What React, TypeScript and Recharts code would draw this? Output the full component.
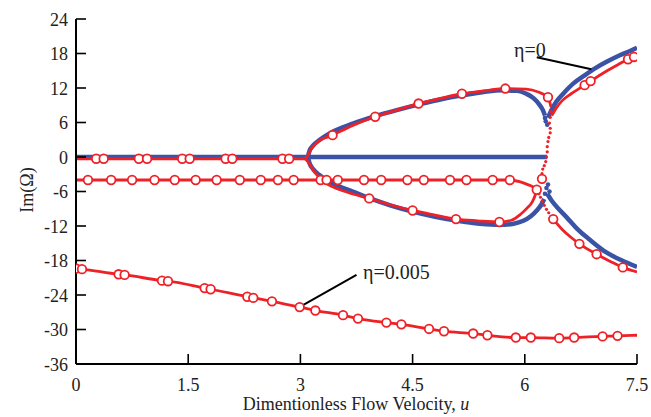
import React from "react";
import { ComposedChart, Line, Scatter, XAxis, YAxis, ReferenceLine } from "recharts";

type P = [number, number];

const X_TICKS = [0, 1.5, 3, 4.5, 6, 7.5];
const Y_TICKS = [-36, -30, -24, -18, -12, -6, 0, 6, 12, 18, 24];

// eta = 0 (blue)
const blueZero: P[] = [[0, 0], [6.3, 0]];
const blueUpper: P[] = [[3.1, 0], [3.12, 1.0], [3.17, 2.0], [3.25, 2.9], [3.4, 4.2], [3.7, 5.8], [4.0, 7.1], [4.3, 8.2], [4.6, 9.2], [4.9, 10.1], [5.2, 10.8], [5.45, 11.3], [5.7, 11.6], [5.9, 11.5], [6.02, 11.0], [6.12, 10.2], [6.19, 9.2], [6.24, 8.2], [6.27, 7.2]];
const blueLower: P[] = [[3.1, 0], [3.12, -1.0], [3.17, -2.1], [3.25, -3.1], [3.4, -4.4], [3.7, -6.0], [3.95, -7.3], [4.2, -8.4], [4.5, -9.5], [4.8, -10.4], [5.1, -11.1], [5.4, -11.6], [5.66, -11.8], [5.85, -11.6], [5.98, -11.1], [6.08, -10.3], [6.16, -9.3], [6.22, -8.3], [6.26, -7.3]];
const blueRightUp: P[] = [[6.31, 6.8], [6.35, 8.0], [6.42, 9.6], [6.52, 11.1], [6.65, 12.8], [6.8, 14.2], [6.95, 15.5], [7.1, 16.6], [7.27, 17.7], [7.4, 18.4], [7.5, 19.0]];
const blueRightDown: P[] = [[6.3, -6.4], [6.36, -7.6], [6.45, -9.0], [6.56, -10.5], [6.7, -12.5], [6.87, -14.4], [7.09, -16.6], [7.3, -18.0], [7.5, -19.1]];
const blueDots: P[] = [[6.27, 6.8], [6.28, 6.2], [6.3, 5.6], [6.31, -4.8], [6.29, -5.4], [6.33, -6.0], [6.27, -6.4]];

// eta = 0.005 (red)
const redUpper: P[] = [[0, -0.3], [3.06, -0.3], [3.1, 0.3], [3.14, 1.3], [3.22, 2.5], [3.43, 3.8], [3.7, 5.5], [4.0, 7.0], [4.3, 8.2], [4.58, 9.3], [4.87, 10.2], [5.16, 11.0], [5.45, 11.5], [5.74, 11.9], [6.02, 11.8], [6.18, 11.3], [6.31, 10.4], [6.35, 8.7]];
const redLower: P[] = [[3.06, -0.3], [3.1, -0.8], [3.14, -1.6], [3.2, -2.8], [3.33, -4.4], [3.6, -6.0], [3.92, -7.2], [4.2, -8.3], [4.5, -9.3], [4.8, -10.1], [5.08, -10.8], [5.37, -11.1], [5.66, -11.3], [5.82, -11.0], [5.94, -10.0], [6.03, -8.9], [6.1, -7.8], [6.14, -6.6], [6.16, -5.7]];
const redMinus4: P[] = [[0, -4], [5.8, -4], [5.93, -4.3], [6.04, -4.8], [6.11, -5.2], [6.16, -5.7]];
const redRightDown: P[] = [[6.38, -10.8], [6.5, -12.6], [6.62, -14.0], [6.73, -15.1], [6.96, -16.9], [7.15, -18.2], [7.31, -19.2], [7.5, -20.0]];
const redRightUp: P[] = [[6.36, 7.2], [6.42, 8.5], [6.5, 9.8], [6.62, 11.0], [6.8, 12.5], [6.88, 13.2], [7.1, 15.0], [7.25, 16.1], [7.38, 17.0], [7.5, 17.7]];
const redBottom: P[] = [[0, -19.4], [0.08, -19.5], [0.57, -20.4], [0.65, -20.5], [1.15, -21.5], [1.23, -21.6], [1.72, -22.8], [1.8, -23.0], [2.29, -24.3], [2.37, -24.5], [2.62, -25.1], [2.99, -26.1], [3.2, -26.7], [3.57, -27.5], [3.77, -28.1], [4.15, -28.8], [4.35, -29.1], [4.72, -29.9], [4.92, -30.3], [5.31, -30.7], [5.5, -31.0], [5.88, -31.4], [6.08, -31.4], [6.46, -31.5], [6.66, -31.4], [7.04, -31.2], [7.24, -31.1], [7.5, -31.0]];
const redDots: P[] = [[6.35, 7.9], [6.34, 6.9], [6.33, 5.9], [6.34, 5.0], [6.34, 4.2], [6.32, 3.4], [6.31, 2.7], [6.3, 1.8], [6.3, 0.9], [6.29, 0.0], [6.28, -0.8], [6.26, -1.5], [6.24, -2.1], [6.23, -2.9], [6.19, -6.4], [6.21, -7.0], [6.23, -7.7], [6.26, -8.4], [6.29, -9.1], [6.32, -9.7], [6.35, -10.3]];

// open circle markers
const zeroMarkX = [0.27, 0.37, 0.84, 0.95, 1.42, 1.52, 2.0, 2.09, 2.76, 2.85];
const minus4MarkX = [0.16, 0.47, 0.75, 1.05, 1.32, 1.6, 1.88, 2.19, 2.47, 2.7, 2.91, 3.27, 3.35, 3.5, 3.85, 4.08, 4.43, 4.65, 5.0, 5.22, 5.57, 5.8];
const loopMarks: P[] = [[3.43, 3.8], [4.0, 7.0], [4.58, 9.3], [5.16, 11.0], [5.74, 11.9], [6.31, 10.4], [3.92, -7.2], [4.5, -9.3], [5.08, -10.8], [5.66, -11.3]];
const branchMarks: P[] = [[6.23, -3.8], [6.16, -5.7], [6.38, -10.8], [6.73, -15.1], [6.96, -16.9], [7.31, -19.2], [6.8, 12.5], [6.88, 13.2], [7.38, 17.0], [7.46, 17.4]];

const BLUE = "#3b53a6";
const RED = "#ee2127";
const FONT = "'Liberation Serif', 'Times New Roman', serif";
const txt = { fontFamily: FONT };

const pts = (a: P[]) => a.map(([x, y]) => ({ x, y }));
const markData = [
  ...zeroMarkX.map((x) => ({ x, y: -0.3 })),
  ...minus4MarkX.map((x) => ({ x, y: -4 })),
  ...pts(loopMarks),
  ...pts(branchMarks),
  ...pts(redBottom.slice(0, -1)),
];

const OpenCircle = (p: any) => (
  <circle cx={p.cx} cy={p.cy} r={4.3} fill="#fff" stroke={RED} strokeWidth={1.8} />
);
const Dot = (color: string, r: number) => (p: any) => <circle cx={p.cx} cy={p.cy} r={r} fill={color} />;

const BottomTick = (p: any) => (
  <g>
    <line x1={p.x} y1={p.y} x2={p.x} y2={p.y - 10} stroke="#000" strokeWidth={1.6} />
    <text x={p.x} y={p.y + 27} textAnchor="middle" style={txt} fontSize={18} fill="#222">{String(p.payload.value)}</text>
  </g>
);
const LeftTick = (p: any) => (
  <g>
    <line x1={p.x} y1={p.y} x2={p.x + 10} y2={p.y} stroke="#000" strokeWidth={1.6} />
    <text x={p.x - 8} y={p.y + 6.5} textAnchor="end" style={txt} fontSize={18} fill="#222">{String(p.payload.value)}</text>
  </g>
);
const TopTick = (p: any) => <line x1={p.x} y1={p.y} x2={p.x} y2={p.y + 10} stroke="#000" strokeWidth={1.6} />;
const RightTick = (p: any) => <line x1={p.x} y1={p.y} x2={p.x - 10} y2={p.y} stroke="#000" strokeWidth={1.6} />;

export default function App() {
  const blueLines = [blueZero, blueUpper, blueLower, blueRightUp, blueRightDown];
  const redLines = [redUpper, redLower, redMinus4, redRightDown, redRightUp, redBottom];
  return (
    <div style={{ position: "absolute", left: 0, top: 0, width: 651, height: 417, background: "#fff" }}>
      <ComposedChart width={651} height={417} margin={{ top: 19, right: 14, bottom: 0, left: 0 }}>
        <XAxis dataKey="x" type="number" domain={[0, 7.5]} ticks={X_TICKS} height={53} tickSize={0} tickMargin={0}
          axisLine={{ stroke: "#000", strokeWidth: 2 }} tickLine={false} tick={BottomTick} allowDataOverflow />
        <XAxis xAxisId="top" orientation="top" type="number" domain={[0, 7.5]} ticks={X_TICKS} height={0} tickSize={0} tickMargin={0}
          axisLine={{ stroke: "#000", strokeWidth: 2 }} tickLine={false} tick={TopTick} allowDataOverflow />
        <YAxis dataKey="y" type="number" domain={[-36, 24]} ticks={Y_TICKS} width={76} tickSize={0} tickMargin={0}
          axisLine={{ stroke: "#000", strokeWidth: 2 }} tickLine={false} tick={LeftTick} allowDataOverflow />
        <YAxis yAxisId="r" orientation="right" type="number" domain={[-36, 24]} ticks={Y_TICKS} width={0} tickSize={0} tickMargin={0}
          axisLine={{ stroke: "#000", strokeWidth: 2 }} tickLine={false} tick={RightTick} allowDataOverflow />

        {blueLines.map((d, i) => (
          <Line key={"b" + i} data={pts(d)} dataKey="y" type="monotone" stroke={BLUE} strokeWidth={4.5}
            dot={false} isAnimationActive={false} />
        ))}
        <Scatter data={pts(blueDots)} shape={Dot(BLUE, 2.3)} isAnimationActive={false} />
        {redLines.map((d, i) => (
          <Line key={"r" + i} data={pts(d)} dataKey="y" type="monotone" stroke={RED} strokeWidth={2.8}
            dot={false} isAnimationActive={false} />
        ))}
        <Scatter data={pts(redDots)} shape={Dot(RED, 1.6)} isAnimationActive={false} />
        <Scatter data={markData} shape={OpenCircle} isAnimationActive={false} />

        <ReferenceLine segment={[{ x: 6.16, y: 17.35 }, { x: 6.89, y: 15.27 }]} stroke="#000" strokeWidth={2} />
        <ReferenceLine segment={[{ x: 3.04, y: -25.7 }, { x: 3.75, y: -20.5 }]} stroke="#000" strokeWidth={2} />
      </ComposedChart>
      <svg width={651} height={417} style={{ position: "absolute", left: 0, top: 0, pointerEvents: "none" }}>
        <text x={514} y={56.5} style={txt} fontSize={20} fill="#222">η=0</text>
        <text x={363} y={279} style={txt} fontSize={20} fill="#222">η=0.005</text>
        <text x={356} y={410} textAnchor="middle" style={txt} fontSize={18} fill="#222">
          Dimentionless Flow Velocity, <tspan fontStyle="italic">u</tspan>
        </text>
        <text transform="translate(33,190) rotate(-90)" textAnchor="middle" style={txt} fontSize={18} fill="#222">Im(Ω)</text>
      </svg>
    </div>
  );
}
